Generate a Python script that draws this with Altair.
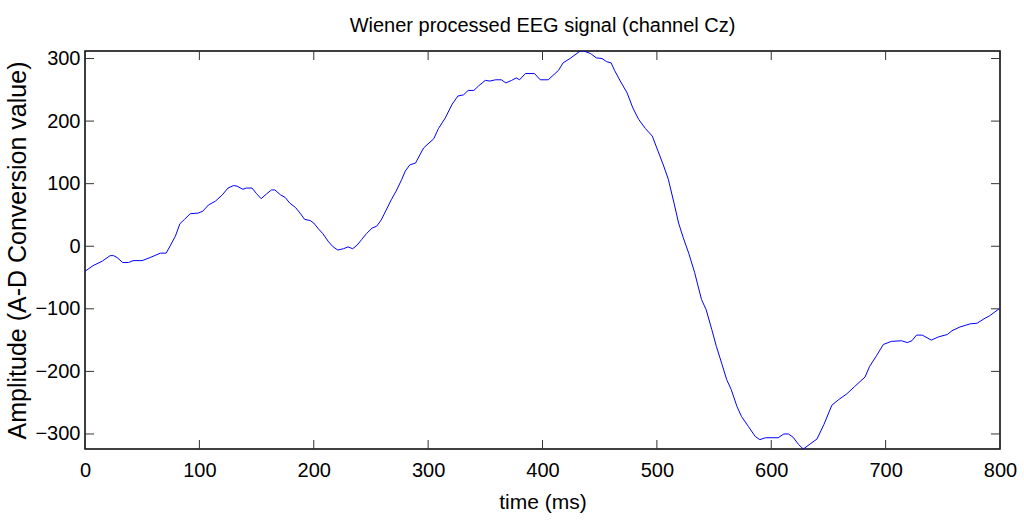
import altair as alt
import pandas as pd

# ---- data ----
time_ms = [
    0, 7, 15, 22, 25, 28, 33, 38, 42, 50,
    57, 66, 71, 79, 83, 87, 92, 99, 103, 108,
    114, 120, 125, 130, 133, 138, 141, 146, 150, 154,
    159, 163, 166, 171, 175, 179, 184, 188, 192, 197,
    200, 204, 208, 213, 217, 221, 226, 230, 234, 238,
    242, 246, 251, 255, 259, 262, 268, 272, 277, 280,
    284, 289, 296, 305, 309, 315, 321, 326, 331, 335,
    340, 344, 350, 354, 359, 364, 368, 373, 377, 380,
    385, 393, 398, 405, 414, 418, 424, 433, 436, 442,
    447, 452, 456, 460, 463, 468, 474, 479, 484, 490,
    496, 501, 506, 510, 515, 519, 523, 528, 533, 539,
    543, 548, 552, 557, 561, 565, 570, 574, 580, 586,
    590, 595, 606, 611, 615, 619, 624, 628, 634, 640,
    646, 653, 659, 666, 673, 682, 686, 692, 698, 705,
    714, 719, 723, 727, 732, 740, 746, 754, 758, 765,
    774, 780, 786, 791, 800,
]
amplitude = [
    -40, -31, -24, -15, -15, -18, -26, -26, -23, -23,
    -18, -11, -11, 16, 36, 43, 52, 53, 56, 66,
    72, 82, 93, 97, 96, 91, 93, 93, 84, 76,
    84, 90, 90, 82, 78, 69, 62, 53, 43, 41,
    37, 28, 20, 7, -1, -6, -4, -1, -4, 2,
    11, 20, 29, 32, 42, 53, 75, 88, 107, 120,
    130, 133, 157, 172, 188, 205, 227, 240, 242, 249,
    249, 256, 265, 264, 266, 266, 261, 265, 269, 266,
    276, 276, 266, 266, 281, 293, 300, 312, 312, 308,
    301, 300, 295, 293, 281, 264, 245, 221, 203, 188,
    176, 152, 128, 107, 69, 37, 14, -12, -42, -85,
    -101, -133, -160, -189, -213, -229, -256, -272, -288, -304,
    -309, -306, -306, -300, -300, -305, -317, -324, -316, -308,
    -285, -254, -245, -236, -224, -209, -192, -175, -157, -152,
    -151, -154, -151, -142, -142, -150, -145, -141, -135, -129,
    -124, -123, -116, -111, -99,
]
x_ticks = [0, 100, 200, 300, 400, 500, 600, 700, 800]
y_ticks = [-300, -200, -100, 0, 100, 200, 300]

TITLE = "Wiener processed EEG signal (channel Cz)"
X_TITLE = "time (ms)"
Y_TITLE = "Amplitude (A-D Conversion value)"

W, H = 915, 398
TICK = 9
FONT = "Liberation Sans"

df = pd.DataFrame({"time": time_ms, "amp": amplitude})
xt = pd.DataFrame({"time": x_ticks})
yt = pd.DataFrame({"amp": y_ticks})

xscale = alt.Scale(domain=[0, 800], nice=False, zero=False)
yscale = alt.Scale(domain=[min(amplitude), max(amplitude)], nice=False, zero=False)

xaxis = alt.Axis(values=x_ticks, title=X_TITLE, ticks=False, domain=False, grid=False,
                 labelFontSize=20, labelPadding=11, labelFont=FONT, labelColor="black",
                 titleFont=FONT, titleFontSize=21, titleFontWeight="normal",
                 titleColor="black", titlePadding=11, labelFlush=False)
yaxis = alt.Axis(values=y_ticks, title=Y_TITLE, ticks=False, domain=False, grid=False,
                 labelFontSize=20, labelPadding=5, labelFont=FONT, labelColor="black",
                 titleFont=FONT, titleFontSize=25, titleFontWeight="normal",
                 titleColor="black", titlePadding=4, labelFlush=False)

line = alt.Chart(df).mark_line(color="#0000ff", strokeWidth=1, clip=True).encode(
    x=alt.X("time:Q", scale=xscale, axis=xaxis),
    y=alt.Y("amp:Q", scale=yscale, axis=yaxis),
)

tick_color = "#333333"
xt_bottom = alt.Chart(xt).mark_rule(color=tick_color, strokeWidth=1).encode(
    x=alt.X("time:Q", scale=xscale, axis=xaxis), y=alt.value(H - TICK), y2=alt.value(H))
xt_top = alt.Chart(xt).mark_rule(color=tick_color, strokeWidth=1).encode(
    x=alt.X("time:Q", scale=xscale, axis=xaxis), y=alt.value(0), y2=alt.value(TICK))
yt_left = alt.Chart(yt).mark_rule(color=tick_color, strokeWidth=1).encode(
    y=alt.Y("amp:Q", scale=yscale, axis=yaxis), x=alt.value(0), x2=alt.value(TICK))
yt_right = alt.Chart(yt).mark_rule(color=tick_color, strokeWidth=1).encode(
    y=alt.Y("amp:Q", scale=yscale, axis=yaxis), x=alt.value(W - TICK), x2=alt.value(W))

chart = alt.layer(line, xt_bottom, xt_top, yt_left, yt_right).properties(
    width=W, height=H,
    background="white",
    title=alt.TitleParams(TITLE, font=FONT, fontSize=20, fontWeight="normal", color="black",
                          anchor="middle", offset=13),
    autosize=alt.AutoSizeParams(type="none"),
    padding={"left": 85, "top": 51, "right": 24, "bottom": 73},
).configure_view(stroke="black", strokeWidth=1.5)

chart.save("out.html", embed_options={"renderer": "svg", "actions": False})
